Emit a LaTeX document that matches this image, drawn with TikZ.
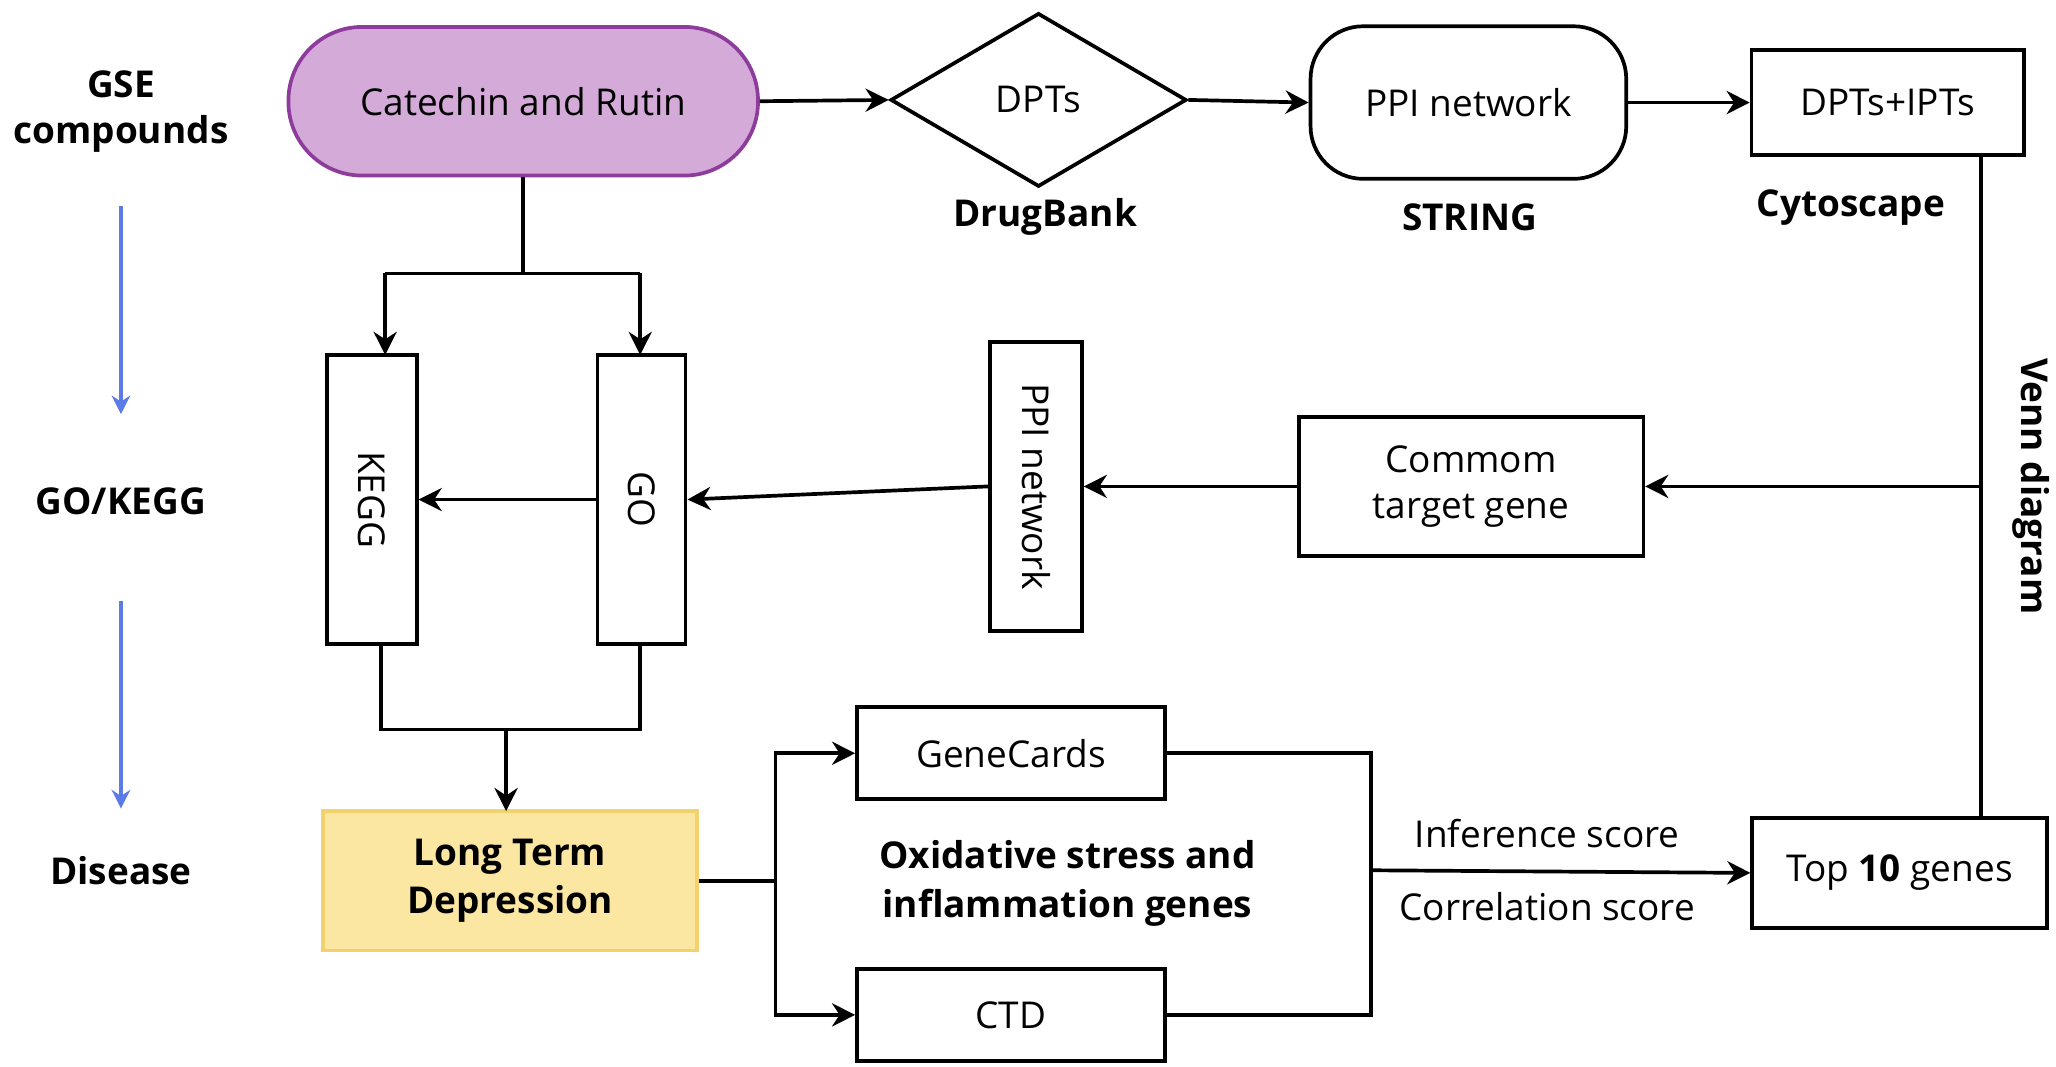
\documentclass[tikz,border=0pt]{standalone}
\usepackage{fontspec}
\setmainfont{Open Sans}
\usetikzlibrary{shapes.geometric,arrows.meta}
\definecolor{lilac}{HTML}{D3AAD8}
\definecolor{plum}{HTML}{8E3C9C}
\definecolor{sand}{HTML}{FBE6A2}
\definecolor{gold}{HTML}{F2D26C}
\definecolor{sky}{HTML}{5B7BE6}
\tikzset{
  box/.style={draw, line width=0.8pt, inner sep=0pt, font=\fontsize{8}{10}\selectfont, align=center},
  tag/.style={font=\fontsize{8}{10}\selectfont\bfseries, align=center, inner sep=0pt},
  plain/.style={font=\fontsize{8}{10}\selectfont, inner sep=0pt},
  link/.style={line width=0.8pt, -{Stealth[length=5pt,width=5pt]}},
  wire/.style={line width=0.8pt},
  stage/.style={draw=sky, line width=0.8pt, -{Stealth[length=4pt,width=4pt]}}
}
\begin{document}
\begin{tikzpicture}[x=0.01cm, y=-0.01cm]
    \useasboundingbox (0,0) rectangle (1564,811);

    % top row
    \node[box, rounded corners=0.56cm, fill=lilac, draw=plum, minimum width=3.57cm, minimum height=1.13cm] (cat) at (398,77) {Catechin and Rutin};
    \node[box, diamond, minimum width=2.25cm, minimum height=1.32cm] (dpt) at (790,76) {DPTs};
    \node[box, rounded corners=0.4cm, minimum width=2.4cm, minimum height=1.16cm] (ppi) at (1117,78) {PPI network};
    \node[box, minimum width=2.07cm, minimum height=0.8cm] (ipt) at (1436,78) {DPTs+IPTs};
    \node[tag] (drugbank) at (795,165) {DrugBank};
    \node[tag] (string) at (1118,165) {STRING};
    \node[tag] (cyto) at (1408,158) {Cytoscape};

    % middle row
    \node[box, minimum width=2.62cm, minimum height=1.06cm] (common) at (1119,370) {Commom\\target gene};
    \node[box, minimum width=0.7cm, minimum height=2.2cm] (ppiv) at (788,370) {};
    \node[plain, rotate=-90] at (ppiv) {PPI network};
    \node[box, minimum width=0.67cm, minimum height=2.2cm] (go) at (488,380) {};
    \node[plain, rotate=-90] at (go) {GO};
    \node[box, minimum width=0.68cm, minimum height=2.2cm] (kegg) at (283,380) {};
    \node[plain, rotate=-90] at (kegg) {KEGG};
    \node[tag, rotate=-90] (venn) at (1545,370) {Venn diagram};

    % bottom row
    \node[box, fill=sand, draw=gold, minimum width=2.84cm, minimum height=1.06cm, font=\fontsize{8}{10.5}\selectfont\bfseries] (ltd) at (388,670) {Long Term\\Depression};
    \node[box, minimum width=2.34cm, minimum height=0.7cm] (gc) at (769,573) {GeneCards};
    \node[box, minimum width=2.34cm, minimum height=0.7cm] (ctd) at (769,772) {CTD};
    \node[tag, font=\fontsize{8}{10.5}\selectfont\bfseries] (oxi) at (812,672) {Oxidative stress and\\inflammation genes};
    \node[box, minimum width=2.24cm, minimum height=0.84cm] (top) at (1445,664) {Top \textbf{10} genes};
    \node[plain] (inf) at (1177,634) {Inference score};
    \node[plain] (cor) at (1177,690) {Correlation score};

    % left column
    \node[tag] (gse) at (92,85) {GSE\\compounds};
    \node[tag] (gok) at (92,381) {GO/KEGG};
    \node[tag] (dis) at (92,662) {Disease};
    \draw[stage] (92,157) -- (92,315);
    \draw[stage] (92,457) -- (92,615);

    % connectors
    \draw[link] (cat.east) -- (dpt.west);
    \draw[link] (dpt.east) -- (ppi.west);
    \draw[link] (ppi.east) -- (ipt.west);
    \coordinate (vtop) at (1507,118);
    \coordinate (vmid) at (1507,370);
    \draw[wire] (vtop) -- (1507,622);
    \draw[link] (vmid) -- (common.east);
    \draw[link] (common.west) -- (ppiv.east);
    \draw[link] (ppiv.west) -- (go.east);
    \draw[link] (go.west) -- (kegg.east);
    \draw[wire] (cat.south) -- (398,208);
    \draw[link] (293,208) -- (293,270);
    \draw[link] (487,208) -- (487,270);
    \draw[wire] (293,208) -- (487,208);
    \draw[wire] (290,490) -- (290,555) -- (487,555) -- (487,490);
    \draw[link] (385,555) -- (385,617);
    \draw[wire] (ltd.east) -- (590,670);
    \draw[link] (590,670) |- (gc.west);
    \draw[link] (590,670) |- (ctd.west);
    \draw[wire] (gc.east) -| (1043,662) |- (ctd.east);
    \draw[link] (1043,662) -- (top.west);
\end{tikzpicture}
\end{document}
